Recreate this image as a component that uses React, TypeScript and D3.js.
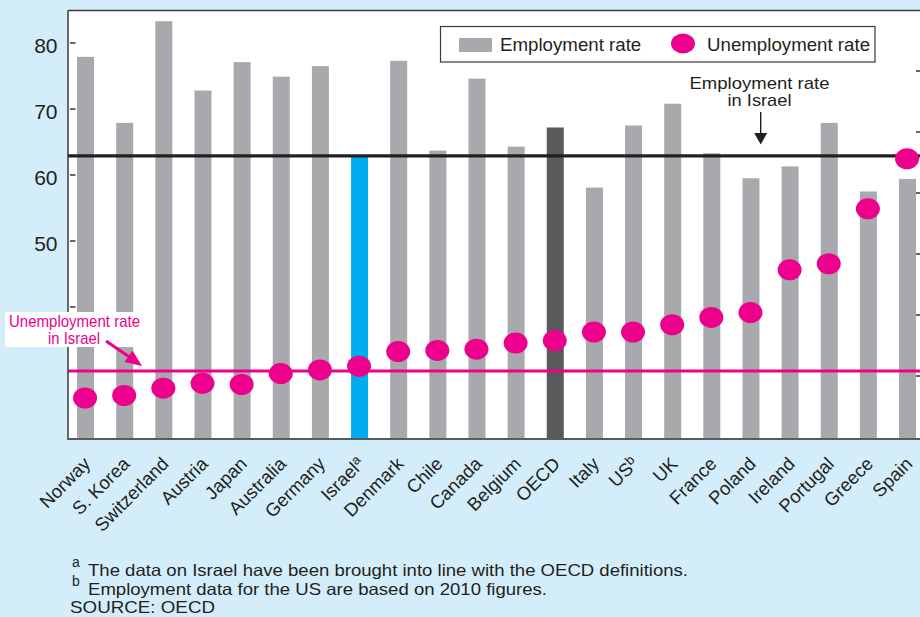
import React from "react";
import * as d3 from "d3";

const categories = ["Norway", "S. Korea", "Switzerland", "Austria", "Japan", "Australia", "Germany", "Israel", "Denmark", "Chile", "Canada", "Belgium", "OECD", "Italy", "US", "UK", "France", "Poland", "Ireland", "Portugal", "Greece", "Spain"];
const labelNotes = ["", "", "", "", "", "", "", "a", "", "", "", "", "", "", "b", "", "", "", "", "", "", ""];
const employment = [77.9, 67.9, 83.3, 72.8, 77.1, 74.9, 76.5, 63.0, 77.3, 63.7, 74.6, 64.3, 67.2, 58.1, 67.5, 70.8, 63.3, 59.5, 61.3, 67.9, 57.5, 59.4];
const unemployment = [3.2, 3.4, 4.0, 4.4, 4.3, 5.2, 5.5, 5.8, 7.0, 7.1, 7.2, 7.7, 7.9, 8.6, 8.6, 9.2, 9.8, 10.2, 13.7, 14.2, 18.7, 22.8];
const israelEmployment = 62.9;
const israelUnemployment = 5.4;
const leftTicks = [40, 50, 60, 70, 80];
const leftTickLabels = [50, 60, 70, 80];
const rightTicks = [5, 10, 15, 20, 25, 30];
const footnotes = [
  { mark: "a", text: "The data on Israel have been brought into line with the OECD definitions.", width: 600 },
  { mark: "b", text: "Employment data for the US are based on 2010 figures.", width: 459 },
];
const sourceText = "SOURCE: OECD";

const W = 920;
const H = 617;
const BG = "#D3EEFA";
const GRAY = "#A7A9AC";
const BLUE = "#00AEEF";
const DARK = "#58595B";
const MAGENTA = "#EC008C";
const TEXT = "#231F20";
const FONT = "Arial, 'Liberation Sans', Helvetica, sans-serif";

export default function App() {
  const plotLeft = 68;
  const plotTop = 10.5;
  const plotBottom = 439;
  const x = d3.scalePoint<string>().domain(categories).range([66, 927.1]).padding(0.5);
  const y = d3.scaleLinear().domain([20, 80]).range([439, 43]);
  const y2 = d3.scaleLinear().domain([0, 30]).range([437, 71]);
  const barW = 17;

  return (
    <svg width={W} height={H} style={{ position: "absolute", left: 0, top: 0, display: "block" }} fontFamily={FONT}>
      <rect x={0} y={0} width={W} height={H} fill={BG} />
      {/* plot area */}
      <rect x={plotLeft} y={plotTop} width={W - plotLeft + 5} height={plotBottom - plotTop} fill="#fff" />

      {/* bars */}
      {categories.map((c, i) => {
        const cx = x(c)!;
        const fill = c === "Israel" ? BLUE : c === "OECD" ? DARK : GRAY;
        return <rect key={c} x={cx - barW / 2} y={y(employment[i])} width={barW} height={plotBottom - 1 - y(employment[i])} fill={fill} />;
      })}

      {/* Israel employment line */}
      <line x1={plotLeft} x2={W} y1={y(israelEmployment)} y2={y(israelEmployment)} stroke="#231F20" strokeWidth={3.2} />
      {/* Israel unemployment line */}
      <line x1={plotLeft} x2={W} y1={y2(israelUnemployment)} y2={y2(israelUnemployment)} stroke={MAGENTA} strokeWidth={3} />

      {/* dots */}
      {categories.map((c, i) => (
        <ellipse key={c} cx={x(c)! - 0.5} cy={y2(unemployment[i])} rx={12} ry={10.5} fill={MAGENTA} />
      ))}

      {/* frame */}
      <line x1={plotLeft} x2={W} y1={plotTop} y2={plotTop} stroke="#3a3a3a" strokeWidth={1.5} />
      <line x1={plotLeft} x2={plotLeft} y1={plotTop} y2={plotBottom + 1} stroke="#3a3a3a" strokeWidth={1.5} />
      <line x1={plotLeft} x2={W} y1={plotBottom} y2={plotBottom} stroke="#5a5a5a" strokeWidth={2} />

      {/* left ticks */}
      {leftTicks.map((t) => (
        <line key={t} x1={70} x2={75.5} y1={y(t)} y2={y(t)} stroke="#333" strokeWidth={1.5} />
      ))}
      {leftTickLabels.map((t) => (
        <text key={t} x={57.5} y={y(t) + 10} textAnchor="end" fontSize={21} fill={TEXT}>{t}</text>
      ))}
      {/* right ticks */}
      {rightTicks.map((t) => (
        <line key={t} x1={916} x2={920} y1={y2(t)} y2={y2(t)} stroke="#333" strokeWidth={1.5} />
      ))}

      {/* legend */}
      <rect x={440.5} y={26.5} width={434.5} height={35.5} fill="#fff" stroke="#3a3a3a" strokeWidth={1.2} />
      <rect x={459} y={38} width={33} height={14} fill={GRAY} />
      <text x={500} y={51} fontSize={18.7} fill={TEXT}>Employment rate</text>
      <ellipse cx={683} cy={43.5} rx={12} ry={10} fill={MAGENTA} />
      <text x={707} y={51} fontSize={18.7} fill={TEXT}>Unemployment rate</text>

      {/* employment annotation */}
      <text x={759.5} y={88.5} textAnchor="middle" fontSize={17} fill={TEXT} textLength={140} lengthAdjust="spacingAndGlyphs">Employment rate</text>
      <text x={759.5} y={106} textAnchor="middle" fontSize={17} fill={TEXT} textLength={64} lengthAdjust="spacingAndGlyphs">in Israel</text>
      <line x1={760.7} x2={760.7} y1={112} y2={134} stroke={TEXT} strokeWidth={1.4} />
      <path d="M754.2,133 L767.2,133 L760.7,144.5 Z" fill={TEXT} />

      {/* unemployment annotation */}
      <rect x={5} y={312} width={136} height={35} fill="#fff" />
      <text x={74.5} y={327} textAnchor="middle" fontSize={16.5} fill={MAGENTA} textLength={131} lengthAdjust="spacingAndGlyphs">Unemployment rate</text>
      <text x={74} y={344} textAnchor="middle" fontSize={16.5} fill={MAGENTA} textLength={52} lengthAdjust="spacingAndGlyphs">in Israel</text>
      <line x1={106} y1={341} x2={131} y2={358} stroke={MAGENTA} strokeWidth={3} />
      <path d="M142,366 L124.5,362 L132.5,350.5 Z" fill={MAGENTA} />

      {/* category labels */}
      {categories.map((c, i) => {
        const cx = x(c)!;
        return (
          <text key={c} transform={`translate(${cx + 6},${465}) rotate(-45)`} textAnchor="end" fontSize={18.5} fill={TEXT}>
            {c}
            {labelNotes[i] ? <tspan fontSize={13} dy={-6}>{labelNotes[i]}</tspan> : null}
          </text>
        );
      })}

      {/* footnotes */}
      {footnotes.map((f, i) => (
        <g key={f.mark}>
          <text x={72} y={567 + i * 18.5} fontSize={14} fill={TEXT}>{f.mark}</text>
          <text x={88} y={576 + i * 18.5} fontSize={16.5} fill={TEXT} textLength={f.width} lengthAdjust="spacingAndGlyphs">{f.text}</text>
        </g>
      ))}
      <text x={70} y={612.5} fontSize={16.5} fill={TEXT} textLength={145} lengthAdjust="spacingAndGlyphs">{sourceText}</text>
    </svg>
  );
}
